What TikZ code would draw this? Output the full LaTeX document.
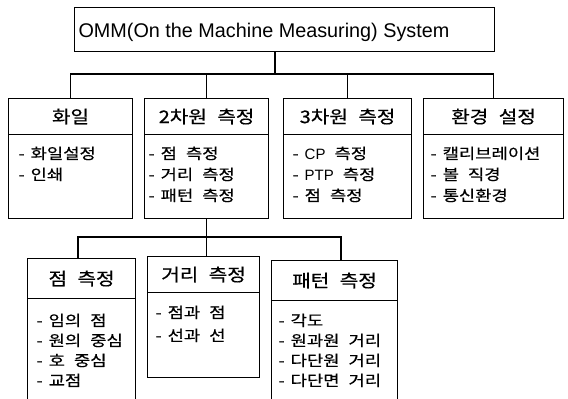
\documentclass[tikz,border=0pt]{standalone}
\usepackage{fontspec}
\setmainfont{Liberation Sans}
\newfontfamily\kr[FakeStretch=1.18,FakeBold=0.5]{Noto Sans CJK KR}
\newfontfamily\krt[FakeStretch=1.15,FakeBold=0.5]{Noto Sans CJK KR}
\newfontfamily\lat{Liberation Sans}
\newcommand\ws{\hspace{0.6em}}
\newcommand\dsh{-\hspace{0.4em}}
\begin{document}
\begin{tikzpicture}[x=1pt,y=-1pt,line width=1.1pt,
  box/.style={draw,rectangle,inner sep=0pt,anchor=north west},
  ttl/.style={inner sep=0pt,font=\krt\fontsize{17.5}{20}\selectfont},
  ln/.style={inner sep=0pt,anchor=base west,font=\kr\fontsize{15}{20}\selectfont}]
\useasboundingbox[fill=white] (0,0) rectangle (568,399);
% top
\node[box,minimum width=420pt,minimum height=44pt] (top) at (74,7) {};
\node[anchor=base west,inner sep=0pt,font=\fontsize{19.8}{22}\selectfont] (toptxt) at (78,37) {OMM(On the Machine Measuring) System};
% level 2
\node[box,minimum width=124pt,minimum height=36pt] (f1t) at (8,98) {};
\node[box,minimum width=124pt,minimum height=84pt] (f1b) at (8,134) {};
\node[box,minimum width=124pt,minimum height=36pt] (f2t) at (144,98) {};
\node[box,minimum width=124pt,minimum height=84pt] (f2b) at (144,134) {};
\node[box,minimum width=128pt,minimum height=36pt] (f3t) at (283,98) {};
\node[box,minimum width=128pt,minimum height=84pt] (f3b) at (283,134) {};
\node[box,minimum width=140pt,minimum height=36pt] (f4t) at (423,98) {};
\node[box,minimum width=140pt,minimum height=84pt] (f4b) at (423,134) {};
\node[ttl] (f1n) at (f1t.center) {화일};
\node[ttl] (f2n) at (f2t.center) {2차원\ws 측정};
\node[ttl] (f3n) at (f3t.center) {3차원\ws 측정};
\node[ttl] (f4n) at (f4t.center) {환경\ws 설정};
\node[ln] (f1a) at (18,159) {\dsh 화일설정};
\node[ln] (f1c) at (18,180) {\dsh 인쇄};
\node[ln] (f2a) at (148,159) {\dsh 점\ws 측정};
\node[ln] (f2c) at (148,180) {\dsh 거리\ws 측정};
\node[ln] (f2d) at (148,201) {\dsh 패턴\ws 측정};
\node[ln] (f3a) at (292,159) {\dsh {\lat CP}\ws 측정};
\node[ln] (f3c) at (292,180) {\dsh {\lat PTP}\ws 측정};
\node[ln] (f3d) at (292,201) {\dsh 점\ws 측정};
\node[ln] (f4a) at (430,159) {\dsh 캘리브레이션};
\node[ln] (f4c) at (430,180) {\dsh 볼\ws 직경};
\node[ln] (f4d) at (430,201) {\dsh 통신환경};
% level 3
\node[box,minimum width=108pt,minimum height=40pt] (g1t) at (27,258) {};
\node[box,minimum width=108pt,minimum height=110pt] (g1b) at (27,298) {};
\node[box,minimum width=112pt,minimum height=36pt] (g2t) at (147,256) {};
\node[box,minimum width=112pt,minimum height=85pt] (g2b) at (147,292) {};
\node[box,minimum width=126pt,minimum height=40pt] (g3t) at (271,260) {};
\node[box,minimum width=126pt,minimum height=110pt] (g3b) at (271,300) {};
\node[ttl] (g1n) at (g1t.center) {점\ws 측정};
\node[ttl] (g2n) at (g2t.center) {거리\ws 측정};
\node[ttl] (g3n) at (g3t.center) {패턴\ws 측정};
\node[ln] (g1a) at (36,326) {\dsh 임의\ws 점};
\node[ln] (g1c) at (36,346) {\dsh 원의\ws 중심};
\node[ln] (g1d) at (36,366) {\dsh 호\ws 중심};
\node[ln] (g1e) at (36,386) {\dsh 교점};
\node[ln] (g2a) at (155,318) {\dsh 점과\ws 점};
\node[ln] (g2c) at (155,341) {\dsh 선과\ws 선};
\node[ln] (g3a) at (278,326) {\dsh 각도};
\node[ln] (g3c) at (278,346) {\dsh 원과원\ws 거리};
\node[ln] (g3d) at (278,366) {\dsh 다단원\ws 거리};
\node[ln] (g3e) at (278,386) {\dsh 다단면\ws 거리};
% connectors
\coordinate (j1) at (275,74);
\draw (top.south -| j1) -- (j1);
\draw (f1t.north) -- (f1t.north |- j1) -- (f4t.north |- j1) -- (f4t.north);
\draw (f2t.north) -- (f2t.north |- j1);
\draw (f3t.north) -- (f3t.north |- j1);
\coordinate (k1) at (78,237);
\coordinate (k3) at (341,237);
\draw (f2b.south) -- (f2b.south |- g2t.north);
\draw (k1 |- g1t.north) -- (k1) -- (k3) -- (k3 |- g3t.north);
\end{tikzpicture}
\end{document}
